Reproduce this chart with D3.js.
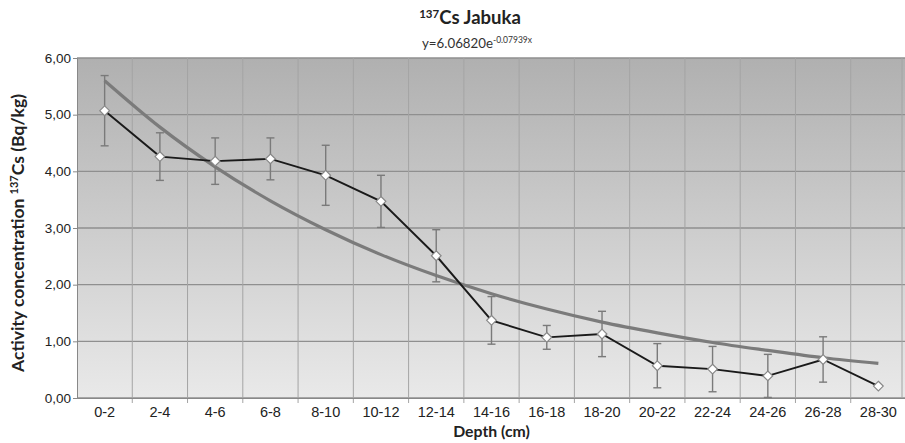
<!DOCTYPE html>
<html><head><meta charset="utf-8">
<script src="https://cdn.jsdelivr.net/npm/d3@7"></script>
<style>body{margin:0;background:#fff}svg{display:block;font-family:Lato,"Open Sans",sans-serif}</style>
</head><body><svg id="c" width="905" height="443"></svg>
<script>
const categories = ["0-2","2-4","4-6","6-8","8-10","10-12","12-14","14-16","16-18","18-20","20-22","22-24","24-26","26-28","28-30"];
const activity = [5.07,4.26,4.18,4.22,3.93,3.47,2.51,1.37,1.07,1.13,0.57,0.51,0.39,0.68,0.21];
const errors = [0.62,0.42,0.41,0.37,0.53,0.46,0.46,0.42,0.21,0.40,0.39,0.40,0.38,0.40,0.0];
const trend = [5.60,4.78,4.08,3.48,2.97,2.53,2.16,1.84,1.57,1.34,1.15,0.98,0.84,0.71,0.61];
const yTicks = [0,1,2,3,4,5,6];

const svg = d3.select("#c");
const L=77,R=906,T=58,B=398;
const x = d3.scaleBand().domain(categories).range([L,R]).padding(0);
const y = d3.scaleLinear().domain([0,6]).range([B,T]);
const cx = d => x(d)+x.bandwidth()/2;

const defs = svg.append("defs");
const g = defs.append("linearGradient").attr("id","bg").attr("x1",0).attr("y1",0).attr("x2",0).attr("y2",1);
g.append("stop").attr("offset","0%").attr("stop-color","#b0b0b0");
g.append("stop").attr("offset","100%").attr("stop-color","#e9e9e9");
svg.append("rect").attr("x",L).attr("y",T).attr("width",R-L).attr("height",B-T).attr("fill","url(#bg)");

// grid
svg.append("g").selectAll("line").data(yTicks).join("line")
 .attr("x1",L).attr("x2",R).attr("y1",d=>y(d)).attr("y2",d=>y(d))
 .attr("stroke","#8f8f8f").attr("stroke-width",1.3);
svg.append("g").selectAll("line").data(categories.slice(1)).join("line")
 .attr("x1",d=>x(d)).attr("x2",d=>x(d)).attr("y1",T).attr("y2",B+5)
 .attr("stroke","#a4a4a4").attr("stroke-width",1);
svg.append("line").attr("x1",902).attr("x2",902).attr("y1",T).attr("y2",B).attr("stroke","#a4a4a4");

// axes
const ya = svg.append("g").attr("transform",`translate(${L},0)`)
 .call(d3.axisLeft(y).tickValues(yTicks).tickFormat(d=>d3.format(".2f")(d).replace(".",",")).tickSize(4).tickPadding(2));
ya.select(".domain").attr("stroke","#888");
ya.selectAll(".tick line").attr("stroke","#888");
ya.selectAll("text").attr("font-size",13.5).attr("fill","#222");
const xa = svg.append("g").attr("transform",`translate(0,${B})`)
 .call(d3.axisBottom(x).tickSize(0).tickPadding(9));
xa.select(".domain").attr("stroke","#888");
xa.selectAll("text").attr("font-size",14.5).attr("fill","#222");

// trend
svg.append("path").datum(trend.map((v,i)=>[cx(categories[i]),y(v)]))
 .attr("d",d3.line().curve(d3.curveMonotoneX)).attr("fill","none").attr("stroke","#7b7b7b").attr("stroke-width",3.2);

// error bars
const eb = svg.append("g").attr("stroke","#7a7a7a").attr("stroke-width",1.4);
categories.forEach((c,i)=>{
  if(!errors[i]) return;
  const X=cx(c);
  eb.append("line").attr("x1",X).attr("x2",X).attr("y1",y(activity[i]+errors[i])).attr("y2",y(Math.max(0,activity[i]-errors[i])));
  eb.append("line").attr("x1",X-4).attr("x2",X+4).attr("y1",y(activity[i]+errors[i])).attr("y2",y(activity[i]+errors[i]));
  eb.append("line").attr("x1",X-4).attr("x2",X+4).attr("y1",y(Math.max(0,activity[i]-errors[i]))).attr("y2",y(Math.max(0,activity[i]-errors[i])));
});

// data line
svg.append("path").datum(activity.map((v,i)=>[cx(categories[i]),y(v)]))
 .attr("d",d3.line()).attr("fill","none").attr("stroke","#1a1a1a").attr("stroke-width",1.9);
svg.append("g").selectAll("path").data(activity).join("path")
 .attr("transform",(d,i)=>`translate(${cx(categories[i])},${y(d)})`)
 .attr("d",d3.symbol(d3.symbolDiamond2,60))
 .attr("fill","#fff").attr("stroke","#888").attr("stroke-width",1.2);

// titles
const t = svg.append("text").attr("x",470).attr("y",24).attr("text-anchor","middle").attr("font-weight","bold").attr("font-size",18.5).attr("fill","#222");
t.append("tspan").text("137").attr("font-size",11.5).attr("dy",-6);
t.append("tspan").text("Cs Jabuka").attr("dy",6);
const s = svg.append("text").attr("x",477).attr("y",48).attr("text-anchor","middle").attr("font-size",13.3).attr("fill","#333");
s.append("tspan").text("y=6.06820e");
s.append("tspan").text("-0.07939x").attr("font-size",8.5).attr("dy",-5);
svg.append("text").attr("x",(L+R)/2).attr("y",437).attr("text-anchor","middle").attr("font-weight","bold").attr("font-size",15.8).attr("fill","#222").text("Depth (cm)");
const yl = svg.append("text").attr("transform",`translate(24,${(T+B)/2+5}) rotate(-90)`).attr("text-anchor","middle").attr("font-weight","bold").attr("font-size",17.5).attr("fill","#222");
yl.append("tspan").text("Activity concentration ");
yl.append("tspan").text("137").attr("font-size",11).attr("dy",-6);
yl.append("tspan").text("Cs (Bq/kg)").attr("dy",6);
</script></body></html>
